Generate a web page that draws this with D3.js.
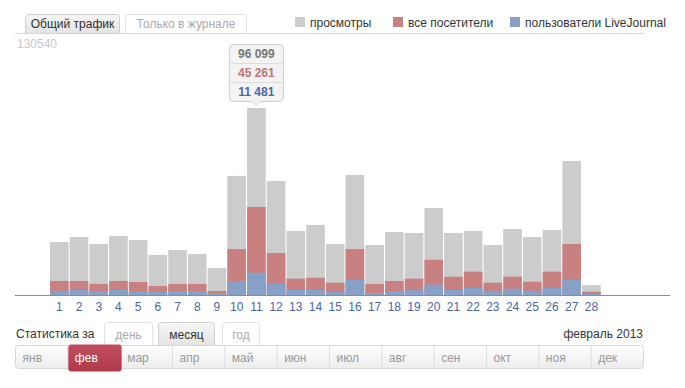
<!DOCTYPE html>
<html>
<head>
<meta charset="utf-8">
<script src="https://cdn.jsdelivr.net/npm/d3@7"></script>
<style>
  body { margin: 0; background: #fff; }
  svg { font-family: Arial, "Liberation Sans", sans-serif; }
</style>
</head>
<body>
<svg id="chart" width="685" height="388"></svg>
<script>
var days = d3.range(1, 29);
var views = [27200, 29800, 26200, 30300, 28300, 20600, 23100, 21100, 13900, 61200,
             96099, 58600, 32900, 36000, 26200, 61700, 25700, 32400, 31900, 44700,
             31900, 32900, 25700, 33900, 29800, 33400, 68900, 5100];
var visitors = [7200, 7200, 5700, 7200, 6700, 4600, 5700, 5700, 2100, 23600,
                45261, 21600, 8400, 8900, 6300, 23600, 5700, 7200, 8400, 18100,
                9400, 12000, 6300, 9400, 6800, 12000, 26200, 1700];
var ljUsers = [2200, 2600, 2100, 2600, 2100, 1700, 2100, 2100, 1000, 7200,
               11481, 5700, 2600, 2600, 1500, 7700, 1000, 2100, 2600, 5300,
               2600, 3800, 2200, 3200, 2200, 3800, 7900, 700];
var yMax = 130540;
var months = ["янв", "фев", "мар", "апр", "май", "июн", "июл", "авг", "сен", "окт", "ноя", "дек"];
var activeMonth = 1;
var periods = ["день", "месяц", "год"];
var legendItems = ["просмотры", "все посетители", "пользователи LiveJournal"];
var hoverDay = 11;

var conf = {
    baseY: 295,
    topY: 41,
    barLeft: 50,
    barRight: 600.7,
    colors: ["#cccccc", "#c98081", "#86a0c8"]
};

var svg = d3.select("#chart");
var defs = svg.append("defs");

var g1 = defs.append("linearGradient").attr("id", "tabOn").attr("x1", 0).attr("y1", 0).attr("x2", 0).attr("y2", 1);
g1.append("stop").attr("offset", 0).attr("stop-color", "#f6f6f6");
g1.append("stop").attr("offset", 1).attr("stop-color", "#e4e4e4");
var g2 = defs.append("linearGradient").attr("id", "monthBg").attr("x1", 0).attr("y1", 0).attr("x2", 0).attr("y2", 1);
g2.append("stop").attr("offset", 0).attr("stop-color", "#ffffff");
g2.append("stop").attr("offset", 1).attr("stop-color", "#ececec");
var g3 = defs.append("linearGradient").attr("id", "monthOn").attr("x1", 0).attr("y1", 0).attr("x2", 0).attr("y2", 1);
g3.append("stop").attr("offset", 0).attr("stop-color", "#c24d5c");
g3.append("stop").attr("offset", 1).attr("stop-color", "#b23a4a");

// top tabs
var drawTab = function(x, w, y, h, label, on){
    var g = svg.append("g");
    g.append("path")
        .attr("d", "M" + x + "," + (y + h) + " V" + (y + 3) + " Q" + x + "," + y + " " + (x + 3) + "," + y +
              " H" + (x + w - 3) + " Q" + (x + w) + "," + y + " " + (x + w) + "," + (y + 3) + " V" + (y + h))
        .attr("fill", on ? "url(#tabOn)" : "#fff")
        .attr("stroke", on ? "#cfcfcf" : "#e2e2e2");
    g.append("text")
        .attr("x", x + w / 2).attr("y", y + h / 2 + 4.5)
        .attr("text-anchor", "middle")
        .attr("font-size", 12)
        .attr("fill", on ? "#333" : "#aaa")
        .text(label);
};
drawTab(25.5, 94, 14.5, 18.5, "Общий трафик", true);
drawTab(125.5, 121, 14.5, 18.5, "Только в журнале", false);
svg.append("line").attr("x1", 15).attr("x2", 645).attr("y1", 33.5).attr("y2", 33.5)
    .attr("stroke", "#d6d6d6");

// legend
var legendX = [295, 393, 510];
legendItems.forEach(function(t, i){
    svg.append("rect").attr("x", legendX[i]).attr("y", 17).attr("width", 10).attr("height", 10)
        .attr("fill", conf.colors[i]);
    svg.append("text").attr("x", legendX[i] + 15).attr("y", 26.5)
        .attr("font-size", 12).attr("fill", "#333").text(t);
});

// scales
var x = d3.scaleBand().domain(days).range([conf.barLeft, conf.barRight]).paddingInner(0.055).paddingOuter(0);
var y = d3.scaleLinear().domain([0, yMax]).range([conf.baseY, conf.topY]);

svg.append("text").attr("x", 17).attr("y", 48).attr("font-size", 12).attr("fill", "#c8c8c8")
    .text(yMax);

var series = [views, visitors, ljUsers];
series.forEach(function(vals, si){
    svg.append("g").selectAll("rect").data(vals).enter().append("rect")
        .attr("x", function(d, i){ return x(days[i]); })
        .attr("y", function(d){ return y(d); })
        .attr("width", x.bandwidth())
        .attr("height", function(d){ return conf.baseY - y(d); })
        .attr("fill", conf.colors[si]);
});

// baseline and day labels
svg.append("line").attr("x1", 15).attr("x2", 670).attr("y1", conf.baseY + 0.5).attr("y2", conf.baseY + 0.5)
    .attr("stroke", "#8c8c8c");
var axis = d3.axisBottom(x).tickSize(0).tickPadding(7);
var ax = svg.append("g").attr("transform", "translate(0," + (conf.baseY + 0.5) + ")").call(axis);
ax.select(".domain").remove();
ax.selectAll("text").attr("font-size", 12).attr("fill", "#4a64a0")
    .attr("font-family", "Arial, 'Liberation Sans', sans-serif");

// tooltip
var hi = hoverDay - 1;
var cx = x(hoverDay) + x.bandwidth() / 2;
var tipTop = 44.5, tipW = 54, rowH = 19;
var tx = cx - tipW / 2;
var tip = svg.append("g");
tip.append("path")
    .attr("d", "M" + (tx + 4) + "," + tipTop + " H" + (tx + tipW - 4) +
          " Q" + (tx + tipW) + "," + tipTop + " " + (tx + tipW) + "," + (tipTop + 4) +
          " V" + (tipTop + 3 * rowH - 4) +
          " Q" + (tx + tipW) + "," + (tipTop + 3 * rowH) + " " + (tx + tipW - 4) + "," + (tipTop + 3 * rowH) +
          " H" + (cx + 4) + " L" + cx + "," + (tipTop + 3 * rowH + 4) + " L" + (cx - 4) + "," + (tipTop + 3 * rowH) +
          " H" + (tx + 4) +
          " Q" + tx + "," + (tipTop + 3 * rowH) + " " + tx + "," + (tipTop + 3 * rowH - 4) +
          " V" + (tipTop + 4) + " Q" + tx + "," + tipTop + " " + (tx + 4) + "," + tipTop + " Z")
    .attr("fill", "#f3f3f3").attr("stroke", "#cfcfcf");
[1, 2].forEach(function(k){
    tip.append("line").attr("x1", tx + 1).attr("x2", tx + tipW - 1)
        .attr("y1", tipTop + k * rowH).attr("y2", tipTop + k * rowH).attr("stroke", "#dcdcdc");
});
var tipColors = ["#777777", "#c07474", "#4a68a8"];
var fmt = function(v){ return d3.format(",")(v).replace(/,/g, " "); };
series.forEach(function(vals, si){
    tip.append("text").attr("x", cx).attr("y", tipTop + si * rowH + 13.5)
        .attr("text-anchor", "middle").attr("font-size", 12).attr("font-weight", "bold")
        .attr("fill", tipColors[si]).text(fmt(vals[hi]));
});

// bottom controls
svg.append("text").attr("x", 16).attr("y", 338).attr("font-size", 12).attr("fill", "#333")
    .text("Статистика за");
var periodX = [104.5, 158.5, 222.5], periodW = [48, 56, 37];
periods.forEach(function(p, i){
    drawTab(periodX[i], periodW[i], 322.5, 23, p, i === 1);
});

var mx = d3.scaleBand().domain(months).range([15.5, 643.5]);
var mb = svg.append("g");
mb.append("rect").attr("x", 15.5).attr("y", 345.5).attr("width", 628).attr("height", 23)
    .attr("rx", 3).attr("fill", "url(#monthBg)").attr("stroke", "#d8d8d8");
months.forEach(function(m, i){
    if (i > 0) {
        mb.append("line").attr("x1", mx(m)).attr("x2", mx(m)).attr("y1", 346).attr("y2", 368)
            .attr("stroke", "#dedede");
    }
});
mb.append("rect").attr("x", mx(months[activeMonth]) + 0.5).attr("y", 344.5)
    .attr("width", mx.bandwidth() + 1).attr("height", 27).attr("rx", 3)
    .attr("fill", "url(#monthOn)");
months.forEach(function(m, i){
    mb.append("text").attr("x", mx(m) + 7).attr("y", 362).attr("font-size", 12)
        .attr("fill", i === activeMonth ? "#fff" : "#999").text(m);
});

svg.append("text").attr("x", 643).attr("y", 338).attr("text-anchor", "end").attr("font-size", 12)
    .attr("fill", "#333").text("февраль 2013");
</script>
</body>
</html>
